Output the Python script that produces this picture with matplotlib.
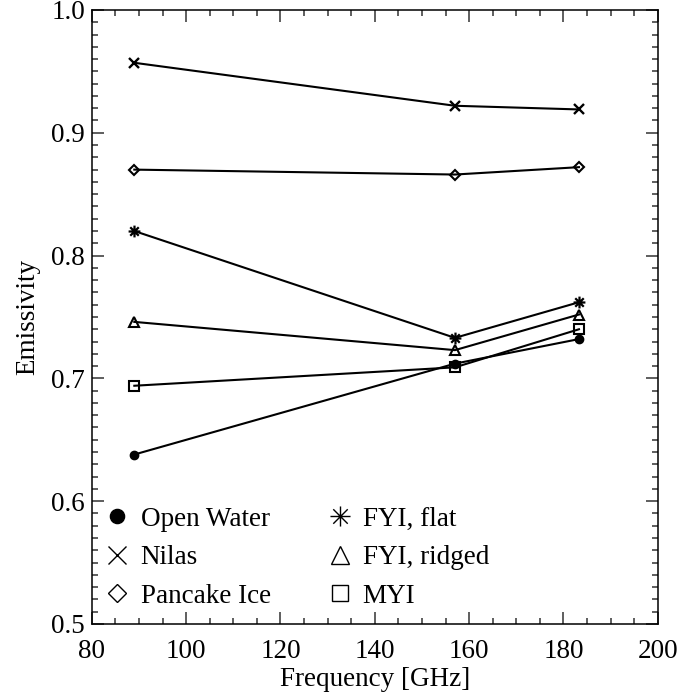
import numpy as np
import matplotlib.pyplot as plt
from matplotlib.path import Path
from matplotlib.ticker import MultipleLocator

plt.rcParams['font.family'] = ['Liberation Serif', 'DejaVu Serif']
plt.rcParams['mathtext.fontset'] = 'stix'

freq = [89.0, 157.0, 183.3]
open_water = [0.638, 0.712, 0.732]
nilas = [0.957, 0.922, 0.919]
pancake = [0.870, 0.866, 0.872]
fyi_flat = [0.820, 0.733, 0.762]
fyi_ridged = [0.746, 0.723, 0.752]
myi = [0.694, 0.709, 0.740]

labels = ['Open Water', 'Nilas', 'Pancake Ice', 'FYI, flat', 'FYI, ridged', 'MYI']

# 8-armed asterisk like IDL psym=2
d = 0.72
star = Path([(-1, 0), (1, 0), (0, -1), (0, 1), (-d, -d), (d, d), (-d, d), (d, -d)],
            [Path.MOVETO, Path.LINETO] * 4)

series = [
    (open_water, dict(marker='o', mfc='black', ms=6)),
    (nilas, dict(marker='x', mfc='none', ms=7.5, mew=1.7)),
    (pancake, dict(marker='D', mfc='none', ms=5.5, mew=1.5)),
    (fyi_flat, dict(marker=star, mfc='none', ms=8.5, mew=1.6)),
    (fyi_ridged, dict(marker='^', mfc='none', ms=7.5, mew=1.5)),
    (myi, dict(marker='s', mfc='none', ms=7, mew=1.5)),
]

fig = plt.figure(figsize=(6.96, 6.93), dpi=100)
ax = fig.add_axes([0.132, 0.0996, 0.813, 0.886])

handles = []
for vals, style in series:
    ax.plot(freq, vals, color='black', lw=1.5, mec='black', **style)
    hs = dict(style)
    hs['ms'] = style['ms'] * 1.7
    hs['mew'] = 1.0
    h, = ax.plot([], [], color='black', ls='none', mec='black', **hs)
    handles.append(h)

ax.set_xlim(80, 200)
ax.set_ylim(0.5, 1.0)
ax.xaxis.set_major_locator(MultipleLocator(20))
ax.xaxis.set_minor_locator(MultipleLocator(5))
ax.yaxis.set_major_locator(MultipleLocator(0.1))
ax.yaxis.set_minor_locator(MultipleLocator(0.01))
ax.tick_params(which='both', direction='in', top=True, right=True, width=1.1,
               labelsize=19.5, color='#333333')
ax.tick_params(which='major', length=8.5)
ax.tick_params(axis='x', which='major', pad=11)
ax.tick_params(axis='y', which='major', pad=5)
ax.tick_params(which='minor', length=4.3)
for s in ax.spines.values():
    s.set_linewidth(1.1)
ax.yaxis.set_major_formatter(plt.FuncFormatter(lambda v, p: f'{v:.1f}'))

ax.set_xlabel('Frequency [GHz]', fontsize=19.5, labelpad=2)
ax.set_ylabel('Emissivity', fontsize=19.5, labelpad=8)

ax.legend(handles, labels, ncol=2, loc='lower left', frameon=False, fontsize=19.5,
          handlelength=0.8, handletextpad=0.45, columnspacing=2.15,
          labelspacing=0.5, borderaxespad=0.0, bbox_to_anchor=(0.007, 0.007))

fig.savefig('out.png', dpi=100)
